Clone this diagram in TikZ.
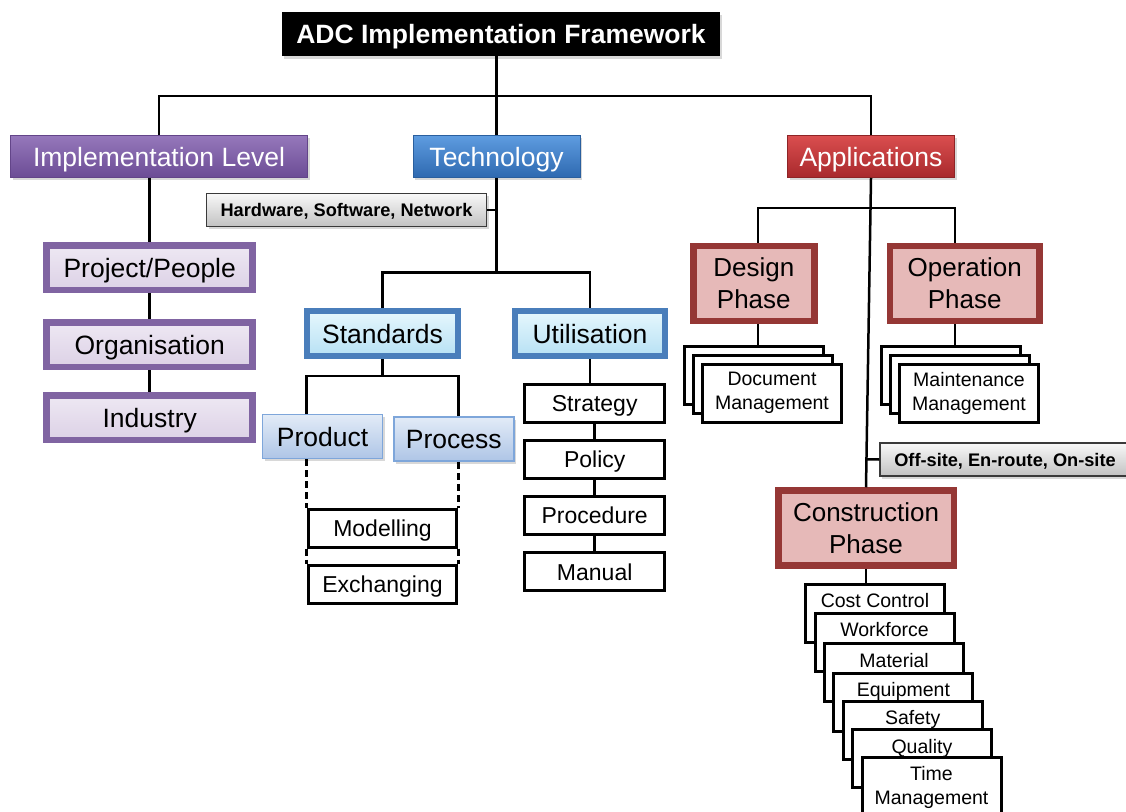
\documentclass[tikz,border=0pt]{standalone}
\usepackage{fontspec}
\setmainfont{Liberation Sans}
\usetikzlibrary{shadows,calc}
\definecolor{purT}{HTML}{9578BB}
\definecolor{purB}{HTML}{6C4C95}
\definecolor{purD}{HTML}{634589}
\definecolor{purL}{HTML}{8064A2}
\definecolor{purFa}{HTML}{EEE8F3}
\definecolor{purFb}{HTML}{DCD1E6}
\definecolor{bluT}{HTML}{5E9CE0}
\definecolor{bluB}{HTML}{2E69B0}
\definecolor{bluD}{HTML}{2A5F9E}
\definecolor{bluL}{HTML}{4A7EBB}
\definecolor{cyanT}{HTML}{E6F7FD}
\definecolor{cyanB}{HTML}{B7E1F4}
\definecolor{prT}{HTML}{E2EBF7}
\definecolor{prB}{HTML}{AEC5E6}
\definecolor{prL}{HTML}{7EA6DA}
\definecolor{redT}{HTML}{DA4E4F}
\definecolor{redB}{HTML}{A8292C}
\definecolor{redD}{HTML}{8E2426}
\definecolor{redL}{HTML}{953735}
\definecolor{redF}{HTML}{E6B9B8}
\definecolor{gryT}{HTML}{F8F8F8}
\definecolor{gryB}{HTML}{C2C2C2}
\definecolor{gryL}{HTML}{3A3A3A}
\begin{document}
\begin{tikzpicture}[x=1pt,y=-1pt,
  every node/.style={inner sep=0pt, align=center},
  oneline/.style={text height=#1, text depth=0pt},
  shad/.style={drop shadow={shadow xshift=2pt, shadow yshift=-2.5pt, opacity=0.3}},
  conn/.style={draw=black, line width=2.5pt},
  dconn/.style={draw=black, line width=2.5pt, dash pattern=on 7pt off 4pt},
  bigtxt/.style={oneline=19pt, font=\fontsize{26.5}{32}\selectfont},
  titlebox/.style={shad, oneline=19pt, fill=black, text=white, font=\bfseries\fontsize{26.5}{30}\selectfont, minimum width=438pt, minimum height=44pt},
  lvlone/.style={shad, bigtxt, text=white, line width=1pt, minimum height=42pt},
  purone/.style={lvlone, draw=purD, top color=purT, bottom color=purB},
  bluone/.style={lvlone, draw=bluD, top color=bluT, bottom color=bluB},
  redone/.style={lvlone, draw=redD, top color=redT, bottom color=redB},
  bluethick/.style={shad, bigtxt, draw=bluL, line width=6pt, top color=cyanT, bottom color=cyanB, minimum height=45pt},
  purthick/.style={shad, bigtxt, draw=purL, line width=6.5pt, top color=purFa, bottom color=purFb, minimum width=206pt, minimum height=44.5pt},
  redthick/.style={shad, font=\fontsize{26}{32}\selectfont, draw=redL, line width=6.5pt, fill=redF, minimum height=75pt},
  prbox/.style={shad, bigtxt, draw=prL, line width=1.5pt, top color=prT, bottom color=prB, minimum width=120pt, minimum height=44pt},
  plainbox/.style={oneline=16.5pt, draw=black, line width=3pt, fill=white, font=\fontsize{23}{26}\selectfont, minimum width=139.5pt, minimum height=38pt},
  stackbox/.style={draw=black, line width=3pt, fill=white, minimum width=139pt, minimum height=58pt},
  stacktxt/.style={font=\fontsize{19.5}{24}\selectfont},
  graybox/.style={shad, oneline=13pt, draw=gryL, line width=1.5pt, top color=gryT, bottom color=gryB, font=\bfseries\fontsize{18.2}{20}\selectfont, minimum height=33pt}
]
\clip (0,0) rectangle (1126,811);
\fill[white] (0,0) rectangle (1126,811);

% ---------- level 0 and 1 ----------
\node[titlebox] (title) at (501,34) {ADC Implementation Framework};
\node[purone, minimum width=297pt] (impl) at (159,156.5) {Implementation Level};
\node[bluone, minimum width=167pt] (tech) at (496.5,156.5) {Technology};
\node[redone, minimum width=167pt] (apps) at (871,156.5) {Applications};
\coordinate (bus) at (496.5,96);
\draw[conn] (title.south -| tech.north) -- (bus);
\draw[conn] (impl.north) |- (bus) -| (apps.north);
\draw[conn] (bus) -- (tech.north);

% ---------- implementation level ----------
\node[purthick] (pp) at (149.7,267.8) {Project/People};
\node[purthick] (org) at (149.7,344.7) {Organisation};
\node[purthick] (ind) at (149.7,417.8) {Industry};
\draw[conn] (impl.south -| pp.north) -- (pp.north);
\draw[conn] (pp.south) -- (org.north);
\draw[conn] (org.south) -- (ind.north);

% ---------- technology ----------
\node[graybox, minimum width=280pt] (hsn) at (346.5,210) {Hardware, Software, Network};
\coordinate (tbus) at (496.5,272.3);
\draw[conn] (tech.south) -- (tbus);
\draw[conn] (hsn.east) -- (hsn.east -| tech.south);
\node[bluethick, minimum width=150.5pt] (std) at (382.5,333.5) {Standards};
\node[bluethick, minimum width=150pt] (util) at (590,333.5) {Utilisation};
\draw[conn] (std.north) |- (tbus) -| (util.north);

\node[prbox] (prod) at (322.5,436.7) {Product};
\node[prbox] (proc) at (453.8,439.2) {Process};
\node[plainbox, minimum width=148.6pt] (mod) at (382.5,528) {Modelling};
\node[plainbox, minimum width=148.6pt] (exch) at (382.5,584.7) {Exchanging};
\coordinate (sbus) at (382.5,376);
\draw[conn] (std.south) -- (sbus);
\draw[conn] (mod.west |- prod.north) |- (sbus) -| (mod.east |- proc.north);
\draw[dconn] (mod.west |- prod.south) -- (mod.north west);
\draw[dconn] (mod.east |- proc.south) -- (mod.north east);
\draw[dconn] (mod.south west) -- (exch.north west);
\draw[dconn] (mod.south east) -- (exch.north east);

\node[plainbox] (strat) at (594.7,403.3) {Strategy};
\node[plainbox] (pol) at (594.7,459.5) {Policy};
\node[plainbox] (prc) at (594.7,515.5) {Procedure};
\node[plainbox] (man) at (594.7,571.8) {Manual};
\draw[conn] (util.south) -- (util.south |- strat.north);
\draw[conn] (strat.south) -- (pol.north);
\draw[conn] (pol.south) -- (prc.north);
\draw[conn] (prc.south) -- (man.north);

% ---------- applications ----------
\node[redthick, minimum width=121pt] (dsg) at (753.8,283.5) {Design\\Phase};
\node[redthick, minimum width=149.5pt] (opr) at (964.7,283.5) {Operation\\Phase};
\coordinate (dj) at (758,208);
\coordinate (oj) at (955,208);
\draw[conn] (dsg.north -| dj) -- (dj) -- (oj) -- (opr.north -| oj);

\node[stackbox] (db1) at (754,375) {};
\node[stackbox] (db2) at (763,384) {};
\node[stackbox, stacktxt] (db3) at (772,393) {Document\\Management};
\draw[conn] (dj |- dsg.south) -- (dj |- db1.north);

\node[stackbox] (mb1) at (951,375.5) {};
\node[stackbox] (mb2) at (960,384.5) {};
\node[stackbox, stacktxt] (mb3) at (969,393.5) {Maintenance\\Management};
\draw[conn] (oj |- opr.south) -- (oj |- mb1.north);

\node[redthick, minimum width=175.5pt] (cons) at (866,528) {Construction\\Phase};
\draw[conn] (apps.south) -- (cons.north);
\node[graybox, minimum width=250pt] (off) at (1005,459.5) {Off-site, En-route, On-site};
\draw[conn] (off.west) -- ($(apps.south)!(off.west)!(cons.north)$);

% ---------- construction stack ----------
\node[stackbox] (s0) at (875.0,613.2) {};
\node[stacktxt, anchor=north] (s0t) at ([yshift=-10.5pt]s0.north) {Cost Control};
\node[stackbox] (s1) at (884.5,642.2) {};
\node[stacktxt, anchor=north] (s1t) at ([yshift=-10.5pt]s1.north) {Workforce};
\node[stackbox] (s2) at (894.1,672.8) {};
\node[stacktxt, anchor=north] (s2t) at ([yshift=-10.5pt]s2.north) {Material};
\node[stackbox] (s3) at (903.4,702.2) {};
\node[stacktxt, anchor=north] (s3t) at ([yshift=-10.5pt]s3.north) {Equipment};
\node[stackbox] (s4) at (912.7,730.5) {};
\node[stacktxt, anchor=north] (s4t) at ([yshift=-10.5pt]s4.north) {Safety};
\node[stackbox] (s5) at (921.9,758.8) {};
\node[stacktxt, anchor=north] (s5t) at ([yshift=-10.5pt]s5.north) {Quality};
\node[stackbox] (s6) at (931.5,786.5) {};
\node[stacktxt, anchor=north] (s6t) at ([yshift=-10.5pt]s6.north) {Time\\Management};
\draw[conn] (cons.south) -- (cons.south |- s0.north);
\end{tikzpicture}
\end{document}
